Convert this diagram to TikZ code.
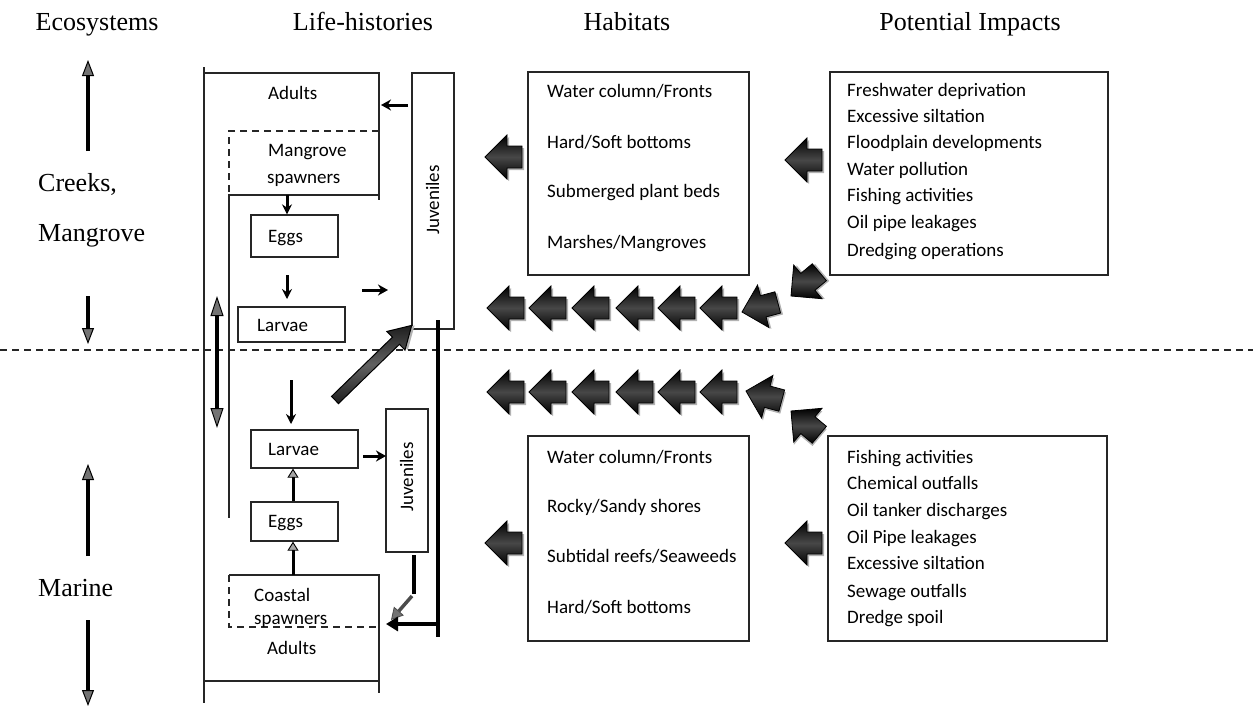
\documentclass[tikz,border=0pt]{standalone}
\usepackage{fontspec}
\setmainfont{Liberation Serif}
\newfontfamily\boxfont{Carlito}
\usetikzlibrary{arrows.meta}

\tikzset{
  blockarrow/.pic={
    % soft shadow
    \fill[black!30] (2,2) -- (24,-20) -- (24,-9) -- (39,-9) -- (39,13) -- (24,13) -- (24,24) -- cycle;
    % shaded body, tip at the origin, pointing left
    \shade[draw=black, line width=0.8pt, top color=black, bottom color=black, middle color=black!72]
      (0,0) -- (22,-22) -- (22,-11) -- (37,-11) -- (37,11) -- (22,11) -- (22,22) -- cycle;
  }
}

\begin{document}
\begin{tikzpicture}[x=1pt,y=-1pt,
  outline/.style={line width=1.3pt, draw=black!85},
  dashedline/.style={line width=1.3pt, draw=black!85, dash pattern=on 7pt off 5pt},
  lbox/.style={outline, rectangle, inner sep=0pt},
  title/.style={font=\fontsize{26}{30}\selectfont, inner sep=0pt, text height=17pt, text depth=0pt},
  eco/.style={font=\fontsize{26}{30}\selectfont, inner sep=0pt, anchor=west, text height=17pt, text depth=0pt},
  bt/.style={font=\boxfont\fontsize{19}{22}\selectfont, inner sep=0pt, anchor=west, text height=12pt, text depth=0pt},
  vt/.style={font=\boxfont\fontsize{19}{22}\selectfont, inner sep=0pt, rotate=90, text height=12pt, text depth=0pt},
  ecoarrow/.style={line width=3.5pt, -{Triangle[length=16pt,width=12pt,fill=black!55,line width=1pt]}},
  duoarrow/.style={line width=4pt, {Triangle[length=20pt,width=13pt,fill=black!55,line width=1pt]}-{Triangle[length=20pt,width=13pt,fill=black!55,line width=1pt]}},
  lc/.style={line width=3pt, -{Stealth[length=10pt,width=10pt]}},
  lcside/.style={line width=3pt, -{Stealth[length=10pt,width=11pt]}},
  lcup/.style={line width=3pt, -{Triangle[length=9pt,width=11pt,fill=black!35,line width=0.9pt]}},
  bold/.style={line width=4.5pt},
]
\useasboundingbox (0,0) rectangle (1253,713);

% ---- column titles ----
\node[title] (tEco)  at (97,21.5)  {Ecosystems};
\node[title] (tLife) at (363,21.5) {Life-histories};
\node[title] (tHab)  at (627,21.5) {Habitats};
\node[title] (tImp)  at (970,21.5) {Potential Impacts};

% ---- boundary between the two ecosystems ----
\coordinate (bL) at (0,350);
\coordinate (bR) at (1253,350);
\draw[dashedline] (bL) -- (bR);

% ---- ecosystems column ----
\node[eco] (creeks)   at (38,182.5) {Creeks,};
\node[eco] (mangrove) at (38,232.5) {Mangrove};
\node[eco] (marine)   at (38,587.5) {Marine};
\coordinate (e1a) at (88,151); \coordinate (e1b) at (88,60);
\coordinate (e2a) at (88,296); \coordinate (e2b) at (88,344);
\coordinate (e3a) at (88,556); \coordinate (e3b) at (88,464);
\coordinate (e4a) at (88,620); \coordinate (e4b) at (88,706);
\draw[ecoarrow] (e1a) -- (e1b);
\draw[ecoarrow] (e2a) -- (e2b);
\draw[ecoarrow] (e3a) -- (e3b);
\draw[ecoarrow] (e4a) -- (e4b);

% ---- life-history frame ----
\draw[outline] (204,67) -- (204,703);
\draw[outline] (204,73) -- (379,73) -- (379,200);
\draw[dashedline] (379,131) -- (229,131) -- (229,195);
\draw[outline] (379,195) -- (229,195) -- (229,518);
\draw[outline] (229,575) -- (379,575) -- (379,693);
\draw[dashedline] (229,575) -- (229,627) -- (379,627);
\draw[outline] (204,681) -- (379,681);

% ---- creek / mangrove stages ----
\node[bt] (adultsA) at (268,93)  {Adults};
\node[bt] (mspA)    at (268,150) {Mangrove};
\node[bt] (mspB)    at (267,177) {spawners};
\node[lbox, minimum width=87pt,  minimum height=42pt] (eggsA)   at (294.5,236) {};
\node[bt] (eggsAt) at (268,236) {Eggs};
\node[lbox, minimum width=107pt, minimum height=35pt] (larvaeA) at (291.5,324.5) {};
\node[bt] (larvaeAt) at (257,325) {Larvae};
\node[lbox, minimum width=42pt,  minimum height=256pt] (juvA)   at (433,201) {};
\node[vt] (juvAt) at (433,200) {Juveniles};

\coordinate (mspBot) at (287,195);
\draw[lc] (mspBot) -- (mspBot |- eggsA.north);
\coordinate (ea1) at (287,275); \coordinate (ea2) at (287,299);
\draw[lc] (ea1) -- (ea2);
\coordinate (lj1) at (362,290); \coordinate (lj2) at (388,290);
\draw[lcside] (lj1) -- (lj2);
\coordinate (ja1) at (408,105); \coordinate (ja2) at (381,105);
\draw[lcside] (ja1) -- (ja2);

% ---- marine stages ----
\node[lbox, minimum width=107pt, minimum height=38pt] (larvaeB) at (304.5,449) {};
\node[bt] (larvaeBt) at (268,449) {Larvae};
\node[lbox, minimum width=87pt,  minimum height=39pt] (eggsB)   at (294.5,521.5) {};
\node[bt] (eggsBt) at (268,521) {Eggs};
\node[lbox, minimum width=42pt,  minimum height=143pt] (juvB)   at (407,480.5) {};
\node[vt] (juvBt) at (407,477) {Juveniles};
\node[bt] (coastal)  at (254,595) {Coastal};
\node[bt] (cspawn)   at (254,618) {spawners};
\node[bt] (adultsB)  at (267,648) {Adults};

\coordinate (lb1) at (291,380); \coordinate (lb2) at (291,424);
\draw[lc] (lb1) -- (lb2);
\coordinate (cTop) at (293,575);
\draw[lcup] (cTop) -- (cTop |- eggsB.south);
\draw[lcup] (eggsB.north -| cTop) -- (cTop |- larvaeB.south);
\coordinate (lj3) at (363,456); \coordinate (lj4) at (386,456);
\draw[lcside] (lj3) -- (lj4);

% juveniles back to the adults
\coordinate (jb1) at (414,555); \coordinate (jb2) at (414,594);
\coordinate (jb3) at (412,596); \coordinate (jb4) at (391,620);
\draw[line width=3.5pt] (jb1) -- (jb2);
\draw[line width=3.5pt, draw=black!70, -{Triangle[length=12pt,width=13pt,fill=black!55,line width=0.8pt]}] (jb3) -- (jb4);

\coordinate (jl1) at (438,320); \coordinate (jl2) at (438,637);
\coordinate (jl3) at (438,624); \coordinate (jl4) at (386,624);
\draw[bold] (jl1) -- (jl2);
\draw[bold, -{Triangle[length=12pt,width=14pt]}] (jl3) -- (jl4);

% up/down exchange between the two systems
\coordinate (d1) at (217,296); \coordinate (d2) at (217,428);
\draw[duoarrow] (d1) -- (d2);

% larvae carried into the creeks
\begin{scope}[shift={(335,400)}, rotate=44.2]
  \fill[black!30] (2,2) -- (87,2) -- (87,15) -- (109,2) -- (87,-11) -- (87,-3) -- (2,-3) -- cycle;
  \shade[draw=black, line width=1pt, top color=black!88, bottom color=black!88, middle color=black!62]
    (0,-5) -- (85,-5) -- (85,-13) -- (107,0) -- (85,13) -- (85,5) -- (0,5) -- cycle;
\end{scope}

% ---- habitats ----
\node[lbox, minimum width=221pt, minimum height=203pt] (habA) at (638.5,173.5) {};
\node[bt] (hA1) at (547,91)  {Water column/Fronts};
\node[bt] (hA2) at (547,142) {Hard/Soft bottoms};
\node[bt] (hA3) at (547,191) {Submerged plant beds};
\node[bt] (hA4) at (547,242) {Marshes/Mangroves};

\node[lbox, minimum width=221pt, minimum height=205pt] (habB) at (638.5,538.5) {};
\node[bt] (hB1) at (547,457) {Water column/Fronts};
\node[bt] (hB2) at (547,506) {Rocky/Sandy shores};
\node[bt] (hB3) at (547,556) {Subtidal reefs/Seaweeds};
\node[bt] (hB4) at (547,607) {Hard/Soft bottoms};

% ---- potential impacts ----
\node[lbox, minimum width=278pt, minimum height=203pt] (impA) at (969,173.5) {};
\node[bt] (iA1) at (847,90)  {Freshwater deprivation};
\node[bt] (iA2) at (847,116) {Excessive siltation};
\node[bt] (iA3) at (847,142) {Floodplain developments};
\node[bt] (iA4) at (847,169) {Water pollution};
\node[bt] (iA5) at (847,195) {Fishing activities};
\node[bt] (iA6) at (847,222) {Oil pipe leakages};
\node[bt] (iA7) at (847,250) {Dredging operations};

\node[lbox, minimum width=279pt, minimum height=205pt] (impB) at (967.5,538.5) {};
\node[bt] (iB1) at (847,457) {Fishing activities};
\node[bt] (iB2) at (847,483) {Chemical outfalls};
\node[bt] (iB3) at (847,510) {Oil tanker discharges};
\node[bt] (iB4) at (847,537) {Oil Pipe leakages};
\node[bt] (iB5) at (847,563) {Excessive siltation};
\node[bt] (iB6) at (847,591) {Sewage outfalls};
\node[bt] (iB7) at (847,617) {Dredge spoil};

% ---- block arrows: impacts -> habitats -> life-histories ----
\pic at (485,157) {blockarrow};
\pic at (785,160) {blockarrow};
\pic at (485,543) {blockarrow};
\pic at (785,543) {blockarrow};

% direct effects along the boundary
\foreach \x in {487,529,572,616,658,700} {
  \pic at (\x,308) {blockarrow};
  \pic at (\x,392) {blockarrow};
}
\pic[rotate=15]  at (742,312) {blockarrow};
\pic[rotate=40]  at (791,296) {blockarrow};
\pic[rotate=-15] at (746,391) {blockarrow};
\pic[rotate=-40] at (791,411) {blockarrow};

\end{tikzpicture}
\end{document}
